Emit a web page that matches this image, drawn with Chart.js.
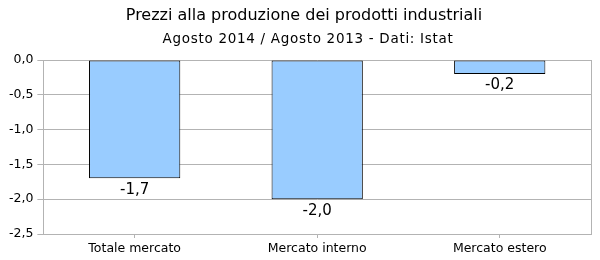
<!DOCTYPE html>
<html>
<head>
<meta charset="utf-8">
<script src="https://cdn.jsdelivr.net/npm/chart.js@4"></script>
<style>
html, body { margin: 0; padding: 0; background: #fff; }
#wrap { width: 600px; height: 260px; }
</style>
</head>
<body>
<div id="wrap"><canvas id="prezziChart"></canvas></div>
<script>
// dati
const categories = ["Totale mercato", "Mercato interno", "Mercato estero"];
const variazioni = [-1.7, -2.0, -0.2];
const yTicks = [0, -0.5, -1.0, -1.5, -2.0, -2.5];
const titolo = "Prezzi alla produzione dei prodotti industriali";
const sottotitolo = "Agosto 2014 / Agosto 2013 - Dati: Istat";

function fmt(v) {
  return v.toFixed(1).replace(".", ",");
}

// titoli, etichette sotto le barre + bordo destro
const labelsPlugin = {
  id: "barLabels",
  afterDraw(chart) {
    const ctx = chart.ctx;
    const meta = chart.getDatasetMeta(0);
    ctx.save();
    ctx.fillStyle = "#000";
    ctx.textAlign = "center";

    ctx.textBaseline = "alphabetic";
    ctx.font = "16px 'DejaVu Sans'";
    ctx.fillText(titolo, 304, 20);
    ctx.font = "13.5px 'DejaVu Sans'";
    ctx.letterSpacing = "0.7px";
    ctx.fillText(sottotitolo, 308, 43);
    ctx.letterSpacing = "0px";

    ctx.font = "15px 'DejaVu Sans'";
    ctx.textBaseline = "top";
    meta.data.forEach((bar, i) => {
      ctx.fillText(fmt(variazioni[i]), bar.x, bar.y + 4);
    });

    const a = chart.chartArea;
    ctx.strokeStyle = "#b3b3b3";
    ctx.lineWidth = 1;
    ctx.beginPath();
    ctx.moveTo(Math.round(a.right) + 0.5, a.top);
    ctx.lineTo(Math.round(a.right) + 0.5, a.bottom);
    ctx.stroke();
    ctx.restore();
  }
};

new Chart(
document.getElementById("prezziChart"),
{
type: "bar",

data: {
labels: categories,
datasets: [{
data: variazioni,
backgroundColor: "#99ccff",
borderColor: "#000",
borderWidth: 1,
borderSkipped: false,
barPercentage: 0.5,
categoryPercentage: 1.0
}]
},

options: {
responsive: true,
maintainAspectRatio: false,
animation: false,
layout: {
padding: { left: 5, right: 9, top: 60, bottom: 1 }
},

plugins: {
legend: { display: false },
tooltip: { enabled: false },
title: { display: false }
},

scales: {
x: {
grid: {
display: true,
offset: false,
drawOnChartArea: false,
drawTicks: true,
tickLength: 4,
color: "#b3b3b3"
},
border: { display: true, color: "#b3b3b3" },
ticks: {
color: "#000",
font: { family: "DejaVu Sans", size: 12.5 },
padding: 3
}
},
y: {
min: -2.5,
max: 0,
afterBuildTicks(axis) {
axis.ticks = yTicks.map(v => ({ value: v }));
},
grid: {
color: "#b3b3b3",
tickLength: 6
},
border: { display: true, color: "#b3b3b3" },
ticks: {
color: "#000",
font: { family: "DejaVu Sans", size: 12.5 },
padding: 4,
callback: v => fmt(v)
}
}
}
},

plugins: [labelsPlugin]
}
);
</script>
</body>
</html>
